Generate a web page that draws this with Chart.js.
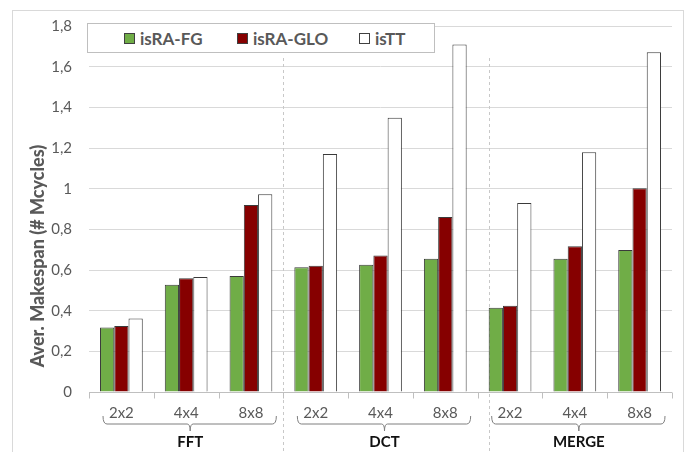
<!DOCTYPE html>
<html>
<head>
<meta charset="utf-8">
<script src="https://cdn.jsdelivr.net/npm/chart.js@4"></script>
<style>
    body { margin: 0; background: #fff; }
    #wrap { position: relative; width: 697px; height: 452px; }
    #legend {
        position: absolute; left: 87px; top: 23px; width: 346px; height: 28px;
        border: 1px solid #bfbfbf; background: #fff; box-sizing: content-box;
        font: bold 17px Lato, sans-serif; color: #595959;
    }
    #legend span.item { position: absolute; top: 4px; white-space: nowrap; }
    #legend i {
        display: inline-block; width: 9px; height: 9px; border: 1px solid #404040;
        margin-right: 5px; vertical-align: 1px;
    }
</style>
</head>
<body>
<div id="wrap">
    <canvas id="chart" width="697" height="452"></canvas>
    <div id="legend"></div>
</div>
<script>
const categories = ['2x2', '4x4', '8x8', '2x2', '4x4', '8x8', '2x2', '4x4', '8x8'];
const groups = ['FFT', 'DCT', 'MERGE'];
const seriesNames = ['isRA-FG', 'isRA-GLO', 'isTT'];
const isRaFg = [0.317, 0.528, 0.571, 0.613, 0.626, 0.655, 0.414, 0.655, 0.698];
const isRaGlo = [0.324, 0.560, 0.920, 0.621, 0.671, 0.861, 0.424, 0.717, 1.002];
const isTt = [0.361, 0.566, 0.973, 1.171, 1.349, 1.709, 0.930, 1.179, 1.671];
const yTicks = [0, 0.2, 0.4, 0.6, 0.8, 1, 1.2, 1.4, 1.6, 1.8];

const colors = ['#70ad47', '#860000', '#ffffff'];
const legendLeft = [36, 149, 271];

// legend box sits over the plot, so it is plain html
const legendEl = document.getElementById('legend');
seriesNames.forEach((name, i) => {
    const item = document.createElement('span');
    item.className = 'item';
    item.style.left = legendLeft[i] + 'px';
    const box = document.createElement('i');
    box.style.background = colors[i];
    item.appendChild(box);
    item.appendChild(document.createTextNode(name));
    legendEl.appendChild(item);
});

const fmt = v => {
    const r = Math.round(v * 10) / 10;
    return Number.isInteger(r) ? String(r) : r.toFixed(1).replace('.', ',');
};

const decorPlugin = {
    id: 'decor',
    beforeDraw(chart) {
        const ctx = chart.ctx;
        ctx.save();
        ctx.strokeStyle = '#d9d9d9';
        ctx.lineWidth = 1;
        ctx.strokeRect(12.5, 10.5, 671, 460);
        ctx.restore();
    },
    beforeDatasetsDraw(chart) {
        const ctx = chart.ctx;
        const x = chart.scales.x;
        const step = x.getPixelForValue(1) - x.getPixelForValue(0);
        const barW = step * 0.66 / 3;
        const seps = [x.getPixelForValue(2) + step / 2, x.getPixelForValue(6) - 1.5 * barW];
        ctx.save();
        ctx.strokeStyle = '#c8c8c8';
        ctx.lineWidth = 1;
        ctx.setLineDash([3, 3]);
        seps.forEach(px => {
            ctx.beginPath();
            ctx.moveTo(Math.round(px) + 0.5, 58);
            ctx.lineTo(Math.round(px) + 0.5, 452);
            ctx.stroke();
        });
        ctx.restore();
    },
    afterDraw(chart) {
        const ctx = chart.ctx;
        const x = chart.scales.x;
        const area = chart.chartArea;
        const step = x.getPixelForValue(1) - x.getPixelForValue(0);
        const base = Math.round(area.bottom) + 0.5;
        ctx.save();
        ctx.strokeStyle = '#bfbfbf';
        ctx.lineWidth = 1;
        ctx.beginPath();
        ctx.moveTo(area.left, base);
        ctx.lineTo(area.right, base);
        for (let i = 0; i <= categories.length; i++) {
            const px = Math.round(x.getPixelForValue(i) - step / 2) + 0.5;
            ctx.moveTo(px, base);
            ctx.lineTo(px, base + 6);
        }
        ctx.stroke();

        ctx.fillStyle = '#595959';
        ctx.font = '15px Lato, sans-serif';
        ctx.textAlign = 'center';
        ctx.textBaseline = 'middle';
        categories.forEach((c, i) => ctx.fillText(c, x.getPixelForValue(i), 413));

        // braces under each group
        ctx.strokeStyle = '#7f7f7f';
        groups.forEach((g, gi) => {
            const start = x.getPixelForValue(gi * 3) - step / 2;
            const end = x.getPixelForValue(gi * 3 + 2) + step / 2;
            const l = start + 14, r = end - 7, mid = (start + end) / 2 + 4;
            ctx.beginPath();
            ctx.moveTo(l, 416);
            ctx.quadraticCurveTo(l, 424, l + 4, 424);
            ctx.lineTo(mid - 3, 424);
            ctx.quadraticCurveTo(mid, 424, mid, 431);
            ctx.quadraticCurveTo(mid, 424, mid + 3, 424);
            ctx.lineTo(r - 4, 424);
            ctx.quadraticCurveTo(r, 424, r, 416);
            ctx.stroke();
            ctx.fillStyle = '#111';
            ctx.font = 'bold 15px Lato, sans-serif';
            ctx.fillText(g, mid, 442);
        });

        // y axis title
        ctx.translate(38, 256);
        ctx.rotate(-Math.PI / 2);
        ctx.fillStyle = '#595959';
        ctx.font = '900 18px Lato, sans-serif';
        ctx.fillText('Aver. Makespan (# Mcycles)', 0, 0);
        ctx.restore();
    }
};

const makeSet = (label, data, i) => ({
    label: label,
    data: data,
    backgroundColor: colors[i],
    borderColor: '#3a3a3a',
    borderWidth: 1,
    categoryPercentage: 0.66,
    barPercentage: 1
});

new Chart(document.getElementById('chart'), {
    type: 'bar',
    data: {
        labels: categories,
        datasets: [
            makeSet(seriesNames[0], isRaFg, 0),
            makeSet(seriesNames[1], isRaGlo, 1),
            makeSet(seriesNames[2], isTt, 2)
        ]
    },
    options: {
        responsive: false,
        animation: false,
        layout: { padding: { left: 0, right: 25, top: 18, bottom: 60 } },
        plugins: {
            legend: { display: false },
            tooltip: { enabled: false }
        },
        scales: {
            x: { display: false },
            y: {
                min: 0,
                max: 1.8,
                afterFit(scale) { scale.width = 89; },
                afterBuildTicks(scale) { scale.ticks = yTicks.map(v => ({ value: v })); },
                grid: { color: '#d9d9d9', drawTicks: false },
                border: { display: false },
                ticks: {
                    padding: 17,
                    color: '#595959',
                    font: { family: 'Lato, sans-serif', size: 15 },
                    callback: v => fmt(v)
                }
            }
        }
    },
    plugins: [decorPlugin]
});
</script>
</body>
</html>
